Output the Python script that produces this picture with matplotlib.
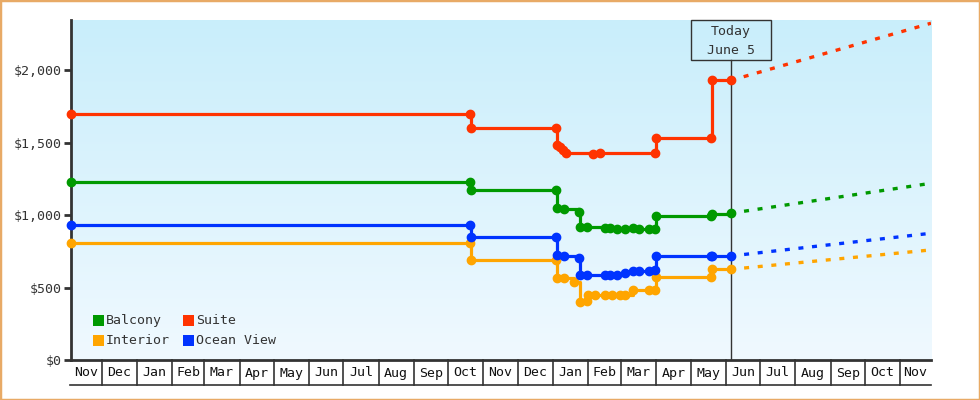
import matplotlib
matplotlib.use("Agg")
import matplotlib.pyplot as plt
import numpy as np
import pandas as pd
from matplotlib.colors import LinearSegmentedColormap
from matplotlib.patches import Rectangle
from matplotlib.transforms import blended_transform_factory

_INK = "#333333"
_BORDER = "#e8aa66"
_BG_TOP = "#c9eefb"
_BG_BOTTOM = "#f0f9ff"

# price history, one step per observed change
suite_dates = ["2022-11-04", "2023-10-20", "2023-10-21", "2024-01-04", "2024-01-05",
               "2024-01-07", "2024-01-10", "2024-01-13", "2024-02-05", "2024-02-11",
               "2024-03-31", "2024-04-01", "2024-05-19", "2024-05-20", "2024-06-05"]
suite_prices = [1700, 1700, 1600, 1600, 1485, 1470, 1450, 1427, 1420, 1427,
                1427, 1535, 1530, 1930, 1930]

shared_dates = ["2022-11-04", "2023-10-20", "2023-10-21", "2024-01-04", "2024-01-05",
                "2024-01-11", "2024-01-24", "2024-01-25", "2024-01-31", "2024-02-16",
                "2024-02-20", "2024-02-26", "2024-03-04", "2024-03-11", "2024-03-17",
                "2024-03-25", "2024-03-31", "2024-04-01", "2024-05-19", "2024-05-20",
                "2024-06-05"]
balcony_prices = [1230, 1230, 1175, 1175, 1047, 1042, 1025, 916, 916, 910,
                  910, 905, 905, 910, 905, 902, 907, 996, 996, 1010, 1013]
ocean_prices = [930, 930, 850, 848, 725, 718, 702, 587, 587, 587,
                587, 587, 598, 617, 617, 617, 621, 718, 718, 718, 718]

interior_dates = ["2022-11-04", "2023-10-20", "2023-10-21", "2024-01-04", "2024-01-05",
                  "2024-01-11", "2024-01-20", "2024-01-25", "2024-01-31", "2024-02-01",
                  "2024-02-07", "2024-02-16", "2024-02-22", "2024-02-29", "2024-03-04",
                  "2024-03-11", "2024-03-25", "2024-03-31", "2024-04-01", "2024-05-19",
                  "2024-05-20", "2024-06-05"]
interior_prices = [805, 805, 690, 690, 568, 564, 541, 403, 407, 452,
                   449, 449, 452, 449, 452, 483, 483, 483, 575, 575, 626, 626]

# straight-line projection from today to the end of the window
today = "2024-06-05"
end_date = "2024-11-28"
projected_end = {"Balcony": 1220, "Suite": 2325, "Interior": 760, "Ocean View": 875}

series_names = ["Balcony", "Suite", "Interior", "Ocean View"]
series_colors = ["#009900", "#ff3300", "#ffa500", "#0033ff"]

y_ticks = [0, 500, 1000, 1500, 2000]
y_labels = ["$0", "$500", "$1,000", "$1,500", "$2,000"]
month_labels = ["Nov", "Dec", "Jan", "Feb", "Mar", "Apr", "May", "Jun", "Jul", "Aug",
                "Sep", "Oct", "Nov", "Dec", "Jan", "Feb", "Mar", "Apr", "May", "Jun",
                "Jul", "Aug", "Sep", "Oct", "Nov"]

plt.rcParams["font.family"] = "DejaVu Sans Mono"
plt.rcParams["font.size"] = 9.5

W, H = 980, 400
L, R, T, B = 71, 931, 20, 360
fig = plt.figure(figsize=(W / 100, H / 100), dpi=100)
fig.patch.set_facecolor("white")
pos = [L / W, (H - B) / H, (R - L) / W, (B - T) / H]


def ax_x(px):
    return (px - L) / (R - L)


def ax_y(py):
    return (B - py) / (B - T)


bg = fig.add_axes(pos, zorder=0)
bg.imshow(np.linspace(0, 1, 256).reshape(-1, 1), aspect="auto", extent=[0, 1, 0, 1],
          cmap=LinearSegmentedColormap.from_list("bg", [_BG_TOP, _BG_BOTTOM]))
bg.set_axis_off()

ax = fig.add_axes(pos, zorder=1)
ax.patch.set_alpha(0)

series = {
    "Balcony": (shared_dates, balcony_prices),
    "Suite": (suite_dates, suite_prices),
    "Interior": (interior_dates, interior_prices),
    "Ocean View": (shared_dates, ocean_prices),
}
draw_order = ["Interior", "Ocean View", "Balcony", "Suite"]
color_of = dict(zip(series_names, series_colors))
t_today = pd.Timestamp(today)
t_end = pd.Timestamp(end_date)

for name in draw_order:
    dates, prices = series[name]
    c = color_of[name]
    ax.plot(pd.to_datetime(dates), prices, drawstyle="steps-post", color=c, lw=2.3,
            marker="o", ms=6, clip_on=False, zorder=3)
    ax.plot([t_today, t_end], [prices[-1], projected_end[name]], color=c, lw=2.4,
            linestyle=(0, (1.5, 2.6)), zorder=3, solid_capstyle="butt")

x0 = pd.Timestamp(suite_dates[0])
ax.set_xlim(x0, t_end)
ax.set_ylim(0, (B - T) / 289.7 * 2000)

ax.set_yticks(y_ticks)
ax.set_yticklabels(y_labels)
ax.set_xticks([])
ax.tick_params(axis="y", length=5, width=2, color=_INK, labelcolor=_INK, pad=2)
for side in ("top", "right"):
    ax.spines[side].set_visible(False)
for side in ("left", "bottom"):
    ax.spines[side].set_color(_INK)
    ax.spines[side].set_linewidth(2)

# month boxes under the axis
blend = blended_transform_factory(ax.transData, ax.transAxes)
box_low = ax_y(B + 25)
starts = pd.date_range("2022-11-01", periods=len(month_labels) + 1, freq="MS")
for i, lab in enumerate(month_labels):
    a = max(starts[i], x0)
    b = min(starts[i + 1], t_end)
    if i > 0:
        ax.plot([a, a], [0, box_low], transform=blend, color=_INK, lw=1.2, clip_on=False)
    mid = a + (b - a) / 2
    ax.text(mid, ax_y(B + 13), lab, transform=blend, ha="center", va="center",
            color="#111111", clip_on=False)
ax.plot([ax_x(L - 1), 1], [box_low, box_low], transform=ax.transAxes, color=_INK,
        lw=1.2, clip_on=False)

# today marker
box_bottom = ax_y(60)
ax.plot([t_today, t_today], [0, box_bottom], transform=blend, color=_INK, lw=1, zorder=2)
tx = ax.transData.transform((matplotlib.dates.date2num(t_today), 0))[0]
fig.add_artist(Rectangle(((tx - 40) / W, (H - 60) / H), 80 / W, 40 / H,
                         transform=fig.transFigure, facecolor="none",
                         edgecolor=_INK, lw=1))
ax.text(t_today, ax_y(32), "Today", transform=blend, ha="center", va="center", color=_INK)
ax.text(t_today, ax_y(50), "June 5", transform=blend, ha="center", va="center", color=_INK)

# legend, two columns
for i, (name, c) in enumerate(zip(series_names, series_colors)):
    col, row = i % 2, i // 2
    sx = 93 + col * 90
    sy = 315 + row * 20
    ax.add_patch(Rectangle((ax_x(sx), ax_y(sy + 11)), 11 / (R - L), 11 / (B - T),
                           transform=ax.transAxes, facecolor=c, edgecolor="none",
                           zorder=4))
    ax.text(ax_x(sx + 13), ax_y(sy + 5.5), name, transform=ax.transAxes,
            ha="left", va="center", color=_INK, zorder=4)

fig.add_artist(Rectangle((0, 0), 1, 1, transform=fig.transFigure, facecolor="none",
                         edgecolor=_BORDER, lw=2.5))

fig.savefig("out.png", dpi=100)
